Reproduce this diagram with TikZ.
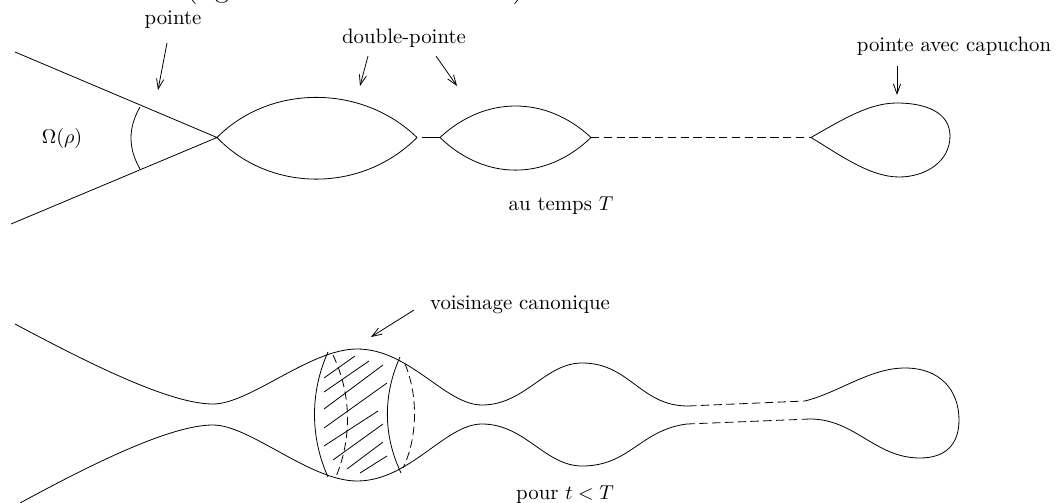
\documentclass[tikz,border=0pt]{standalone}
\usepackage{amsmath,amssymb}
\usepackage{xcolor}
\usepackage{tikz}
\usetikzlibrary{positioning, arrows.meta}

\begin{document}
\begin{tikzpicture}[x=0.5pt, y=-0.5pt, font=\fontsize{10.4}{12}\selectfont,
    curve/.style={line width=0.4pt},
    dashcurve/.style={line width=0.4pt, dash pattern=on 4.2pt off 2.2pt},
    pointer/.style={line width=0.4pt, -{Straight Barb[length=5pt, width=3.6pt]}},
    label/.style={inner sep=0pt}]
  \path[use as bounding box, clip] (0,0) rectangle (1057,503);

  \node[anchor=base, font=\Large] (cutleft) at (192,-3) {(};
  \node[anchor=base, font=\Large] (cutg) at (222,-3) {g};
  \node[anchor=base, font=\Large] (cutright) at (518,-3) {)};

  \node[label] (pointe) at (173,20) {pointe};
  \node[label] (doublepointe) at (404,38) {double-pointe};
  \node[label] (capuchon) at (954,46) {pointe avec capuchon};
  \node[label] (omega) at (62,138) {$\Omega(\rho)$};
  \node[label] (autemps) at (561,206) {au temps $T$};
  \node[label] (voisinage) at (520,305) {voisinage canonique};
  \node[label] (pourt) at (565,495) {pour $t<T$};

  \coordinate (tipA) at (217,137.5);
  \coordinate (tipB) at (417,137.5);
  \coordinate (tipC) at (440,137.5);
  \coordinate (tipD) at (591,137.5);
  \coordinate (tipE) at (811,137.5);

  \draw[curve] (15,52) -- (tipA) -- (11,224);
  \draw[curve] (140,107) .. controls (128,128) and (128,148) .. (140,169);
  \draw[curve] (tipA) .. controls (270,84) and (362,84) .. (tipB);
  \draw[curve] (tipA) .. controls (270,193) and (362,193) .. (tipB);
  \draw[curve] (422,137.5) -- (tipC);
  \draw[curve] (tipC) .. controls (485,95.5) and (546,95.5) .. (tipD);
  \draw[curve] (tipC) .. controls (485,181) and (546,181) .. (tipD);
  \draw[dashcurve] (tipD) -- (tipE);
  \draw[curve] (tipE) .. controls (845,118) and (870,103) .. (897,103)
    .. controls (925,103) and (950,112) .. (950,136)
    .. controls (950,162) and (925,177) .. (899,177)
    .. controls (870,177) and (840,155) .. (tipE);

  \coordinate (pointeend) at (158,90);
  \coordinate (doubleendA) at (360,86);
  \coordinate (doubleendB) at (457,86);
  \coordinate (capuchonend) at (897,95);
  \coordinate (voisinageend) at (371,337);
  \draw[pointer] (167,43) -- (pointeend);
  \draw[pointer] (368,56) -- (doubleendA);
  \draw[pointer] (436,56) -- (doubleendB);
  \draw[pointer] (897,66) -- (capuchonend);
  \draw[pointer] (414,310) -- (voisinageend);

  \draw[curve] (15,324) .. controls (90,364) and (170,404) .. (213,404)
    .. controls (250,404) and (310,349) .. (357,349)
    .. controls (410,349) and (445,405) .. (482,405)
    .. controls (525,405) and (545,363) .. (582,363)
    .. controls (630,363) and (640,406) .. (688,406);
  \draw[dashcurve] (688,406) -- (805,401);
  \draw[curve] (805,401) .. controls (840,392) and (870,368) .. (905,368)
    .. controls (940,368) and (959,390) .. (959,420)
    .. controls (959,445) and (945,458) .. (920,458)
    .. controls (875,458) and (855,419) .. (810,419);
  \draw[dashcurve] (810,419) -- (687,424);
  \draw[curve] (687,424) .. controls (640,430) and (630,466) .. (582,466)
    .. controls (545,466) and (525,424) .. (482,424)
    .. controls (445,424) and (410,481) .. (357,481)
    .. controls (310,481) and (250,425) .. (213,425)
    .. controls (170,425) and (90,465) .. (20,503);

  \draw[curve] (328,352) .. controls (310,392) and (310,437) .. (328,477);
  \draw[curve] (400,357) .. controls (383,395) and (383,435) .. (401,473);
  \draw[dashcurve] (333,355) .. controls (352,395) and (352,440) .. (335,479);
  \draw[dashcurve] (405,364) .. controls (418,395) and (418,437) .. (403,468);

  \foreach \xa/\ya/\xb/\yb in {324/378/355/356, 324/392/369/361, 324/409/383/365, 324/428/387/383,
      324/446/378/411, 333/460/383/424, 347/469/383/442, 360/473/387/456}
    \draw[curve] (\xa,\ya) -- (\xb,\yb);
\end{tikzpicture}
\end{document}
